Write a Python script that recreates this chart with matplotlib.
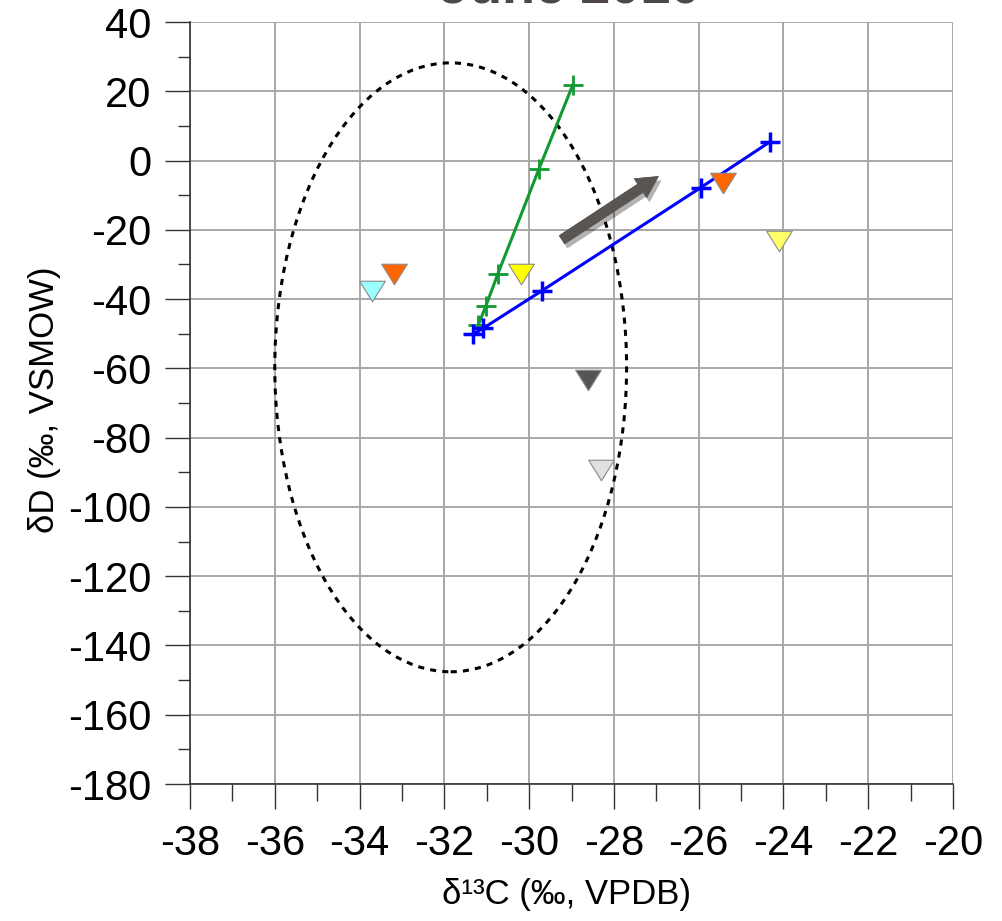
import matplotlib
matplotlib.use("Agg")
import matplotlib.pyplot as plt
import matplotlib.patheffects as pe
from matplotlib.patches import Ellipse, FancyArrowPatch
from matplotlib.ticker import MultipleLocator
from matplotlib.path import Path

plt.rcParams['font.family'] = ['Liberation Sans', 'DejaVu Sans']

# Data
green_x = [-28.97, -29.77, -30.74, -31.02, -31.20]
green_y = [21.8, -2.5, -32.8, -42.0, -47.5]
blue_x = [-24.32, -25.95, -29.70, -31.08, -31.32]
blue_y = [5.4, -7.8, -37.6, -48.4, -50.1]

tri_x = [-33.70, -33.18, -30.19, -25.42, -24.11, -28.60, -28.31]
tri_y = [-37.6, -32.9, -32.9, -6.5, -23.2, -63.3, -89.2]
tri_colors = ['#99ffff', '#ff6600', '#ffff00', '#ff6600', '#ffff66', '#555555', '#e0e0e0']

ellipse_center = (-31.85, -59.7)
ellipse_w = 8.30
ellipse_h = 175.8

arrow_start = (-29.23, -22.9)
arrow_end = (-26.94, -4.5)

xticks = list(range(-38, -19, 2))
yticks = list(range(-180, 41, 20))

fig = plt.figure(figsize=(10.02, 9.21), dpi=100)
ax = fig.add_axes([190/1002, 1-784/921, (953-190)/1002, (784-22)/921])
ax.set_xlim(-38, -20)
ax.set_ylim(-180, 40)
ax.set_xticks(xticks)
ax.set_yticks(yticks)
ax.set_xticklabels([str(t) for t in xticks])
ax.set_yticklabels([str(t) for t in yticks])
ax.xaxis.set_minor_locator(MultipleLocator(1))
ax.yaxis.set_minor_locator(MultipleLocator(10))
ax.grid(True, which='major', color='#a8a8a8', lw=1.4, zorder=0)
ax.set_axisbelow(True)
for s in ['top', 'right']:
    ax.spines[s].set_visible(False)
for s in ['left', 'bottom']:
    ax.spines[s].set_color('#333333')
    ax.spines[s].set_linewidth(1.2)
ax.tick_params(axis='both', which='major', direction='out', length=18, width=1, color='#333333',
               labelsize=30)
ax.tick_params(axis='y', which='major', pad=10)
ax.tick_params(axis='x', which='major', pad=11)
ax.tick_params(axis='y', which='minor', direction='out', length=9, width=1, color='#333333')
ax.tick_params(axis='x', which='minor', direction='out', length=12, width=1, color='#333333')

# ellipse
ell = Ellipse(ellipse_center, ellipse_w, ellipse_h, fill=False, ls=(0, (2, 2)), lw=2.2,
              edgecolor='black', zorder=2)
ax.add_patch(ell)

# lines
ax.plot(green_x, green_y, color='#119933', lw=2.2, marker='+', ms=14, mew=2, zorder=3)
ax.plot(blue_x, blue_y, color='#0000ff', lw=2.2, marker='+', ms=15, mew=2.5, zorder=4)

# triangles
tri_marker = Path([(-1, 0.8), (1, 0.8), (0, -0.8), (-1, 0.8)],
                  [Path.MOVETO, Path.LINETO, Path.LINETO, Path.CLOSEPOLY])
for x, y, c in zip(tri_x, tri_y, tri_colors):
    ax.plot([x], [y], marker=tri_marker, ms=18.5, color=c, mec='#8a8a8a', mew=0.8,
            ls='none', zorder=5)

# arrow
arr = FancyArrowPatch(arrow_start, arrow_end,
                      arrowstyle='simple,head_length=16,head_width=17,tail_width=7.5',
                      mutation_scale=1, color='#5a5550', lw=0, zorder=6,
                      shrinkA=0, shrinkB=0)
arr.set_path_effects([pe.withSimplePatchShadow(offset=(2, -3), shadow_rgbFace='black', alpha=0.3),
                      pe.Normal()])
ax.add_patch(arr)

ax.set_xlabel('\u03b4\u00b9\u00b3C (\u2030, VPDB)', fontsize=25)
ax.set_ylabel('\u03b4D (\u2030, VSMOW)', fontsize=25)
ax.xaxis.set_label_coords((567-190)/763, -(894-784)/762)
ax.yaxis.set_label_coords(-(190-45)/763, (784-400)/762)
ax.xaxis.label.set_va('center')
ax.yaxis.label.set_va('center')

fig.text(570/1002, 1-4/921, 'June 2010', fontsize=39, fontweight='bold', color='#4d4846',
         ha='center', va='baseline')

fig.savefig('out.png', dpi=100)
